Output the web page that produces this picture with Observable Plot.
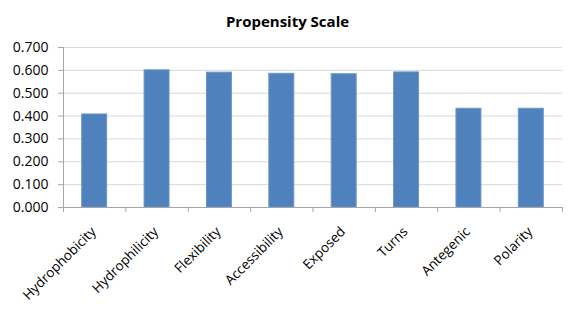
<!DOCTYPE html>
<html>
<head>
<meta charset="utf-8">
<script src="https://cdn.jsdelivr.net/npm/d3@7"></script>
<script src="https://cdn.jsdelivr.net/npm/@observablehq/plot@0.6"></script>
<style>
  html, body { margin: 0; padding: 0; background: #ffffff; }
</style>
</head>
<body>
<div id="chart"></div>
<script>
const title = "Propensity Scale";
const categories = ["Hydrophobicity", "Hydrophilicity", "Flexibility", "Accessibility", "Exposed", "Turns", "Antegenic", "Polarity"];
const values = [0.407, 0.600, 0.590, 0.585, 0.583, 0.591, 0.432, 0.432];
const yTicks = [0, 0.1, 0.2, 0.3, 0.4, 0.5, 0.6, 0.7];

const data = categories.map((c, i) => ({category: c, value: values[i]}));

const W = 574, H = 318;
const mL = 63, mR = 12, mT = 47, mB = 111;
const step = (W - mL - mR) / categories.length;
const axisColor = "#a6a6a6";
const gridColor = "#d9d9d9";

const chart = Plot.plot({
  width: W,
  height: H,
  marginLeft: mL,
  marginRight: mR,
  marginTop: mT,
  marginBottom: mB,
  style: {fontFamily: "'Open Sans', sans-serif", fontSize: "13px", background: "#ffffff", color: "#000"},
  x: {domain: categories, paddingInner: 0.6, paddingOuter: 0.3, round: false, axis: null},
  y: {domain: [0, 0.7], axis: null},
  marks: [
    Plot.gridY(yTicks, {stroke: gridColor, strokeOpacity: 1}),
    Plot.barY(data, {x: "category", y: "value", fill: "#4f81bd", stroke: "#6a95c9", strokeWidth: 1}),
    Plot.ruleY([0], {stroke: axisColor}),
    Plot.ruleX([categories[0]], {x: d => d, dx: -step / 2, y1: 0, y2: 0.7, stroke: axisColor}),
    Plot.ruleX(categories, {x: d => d, dx: -step / 2, y1: 0, y2: 0, insetTop: 5, stroke: axisColor}),
    Plot.ruleX([categories[categories.length - 1]], {x: d => d, dx: step / 2, y1: 0, y2: 0, insetTop: 5, stroke: axisColor}),
    Plot.axisY(yTicks, {tickFormat: d3.format(".3f"), tickSize: 5, tickPadding: 10, fontSize: 14, stroke: axisColor, fill: "#000", label: null}),
    Plot.text(categories, {x: d => d, y: 0, text: d => d, rotate: -45, textAnchor: "end", lineAnchor: "bottom", dx: 2, dy: 25, fontSize: 13.5, fill: "#000"}),
    Plot.text([title], {frameAnchor: "top", text: d => d, dx: -25.5, dy: -21, lineAnchor: "bottom", fontWeight: "bold", fontSize: 15, fill: "#000"})
  ]
});
document.getElementById("chart").appendChild(chart);
</script>
</body>
</html>
